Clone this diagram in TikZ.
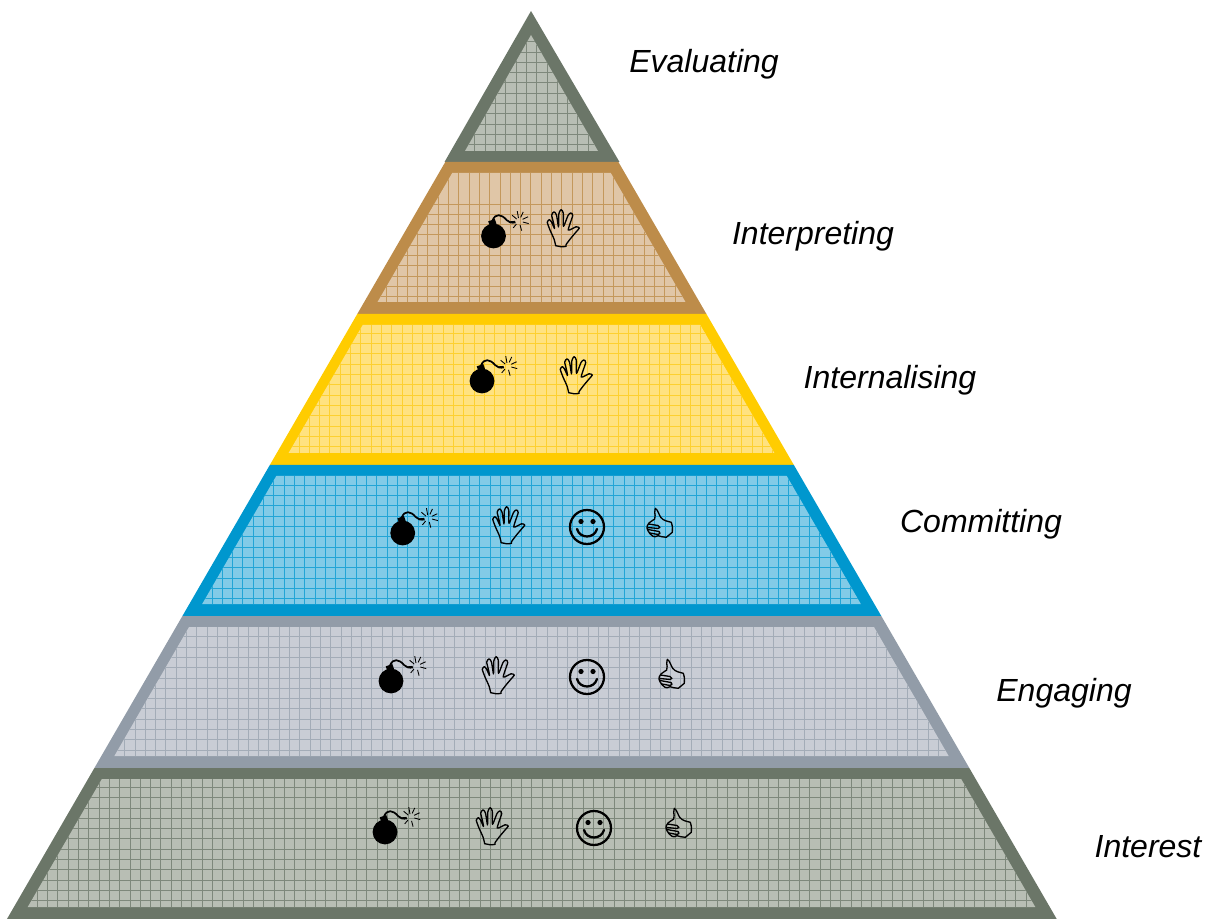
\documentclass[tikz,border=0pt]{standalone}
\usepackage{fontspec}
\setmainfont{Liberation Sans}
\definecolor{bgreen}{HTML}{6B7668}\definecolor{fgreen}{HTML}{B8BEB4}\definecolor{lgreen}{HTML}{7E887B}
\definecolor{bgrey}{HTML}{929CA8}\definecolor{fgrey}{HTML}{C9CDD5}\definecolor{lgrey}{HTML}{A3ACB7}
\definecolor{bblue}{HTML}{0097CE}\definecolor{fblue}{HTML}{82CBE7}\definecolor{lblue}{HTML}{22A5D6}
\definecolor{byel}{HTML}{FFCC00}\definecolor{fyel}{HTML}{FFE280}\definecolor{lyel}{HTML}{FDD030}
\definecolor{btan}{HTML}{BD8C4A}\definecolor{ftan}{HTML}{E0C6A7}\definecolor{ltan}{HTML}{C4985C}
% top, bottom, border, fill, line, inset, x phase, y phase
\newcommand{\pyrlayer}[8]{%
  \pgfmathsetmacro{\oT}{0.579*(#1-11)}\pgfmathsetmacro{\oB}{0.579*(#2-11)}
  \pgfmathsetmacro{\iT}{0.579*(#1+11-11)-#6}\pgfmathsetmacro{\iB}{0.579*(#2-12-11)-#6}
  \fill[#3] ({531-\oT+1.7},#1) -- ({531+\oT},#1) -- ({531+\oB},#2) -- ({531-\oB+1.7},#2) -- cycle;
  \begin{scope}
    \clip ({531-\iT},#1+11) -- ({531+\iT+1},#1+11) -- ({531+\iB+1},#2-12) -- ({531-\iB},#2-12) -- cycle;
    \fill[#4] (0,#1) rectangle (1217,#2);
    \foreach \k in {-60,...,100} \draw[#5,gridline] ({#7+10.3*\k},#1) -- ({#7+10.3*\k},#2);
    \foreach \k in {-1,...,16} \draw[#5,gridline] (0,{#8+10.3*\k}) -- (1217,{#8+10.3*\k});
  \end{scope}}
\tikzset{
  gridline/.style={line width=0.6pt},
  layerlabel/.style={font=\itshape\fontsize{24}{28}\selectfont,inner sep=0pt,anchor=center},
  iconline/.style={draw=black,line width=1pt,line join=round,line cap=round,fill=none},
  bombicon/.pic={
    \fill[black] (0,0) circle (12.4);
    \fill[black,rotate around={20:(-1,-13)}] (-4.5,-16) rectangle (2.5,-11);
    \draw[black,line width=1.3pt] (-1,-15.5) .. controls (2,-23) and (8,-22) .. (13,-16) .. controls (15,-13.5) and (18,-13) .. (22,-13.5);
    \foreach \a/\r/\s in {-15/4/10,25/4/10,65/4/10,100/3/10,140/3/9,185/4/9,230/4/9,285/4/10}
      \draw[black,line width=0.65pt] ({25.5+\r*cos(\a)},{-15-\r*sin(\a)}) -- ({25.5+\s*cos(\a)},{-15-\s*sin(\a)});
  },
  handicon/.pic={
    \draw[iconline] plot[smooth,tension=0.4] coordinates {
      (-7.3,15.7) (-9,9) (-13,0) (-15.7,-7.7) (-13.7,-10.3) (-11.5,-8) (-8.5,-1.5) (-9.7,-8) (-11.3,-15) (-9,-18.2) (-6.5,-15) (-4.5,-3)
      (-4.2,-16) (-2,-20.3) (0.3,-17) (0.5,-3.7) (5,-14.5) (7.7,-17) (9.7,-14.5) (5.3,0) (13,-3.2) (16.3,-2) (13.5,1.5) (8,8) (3,14.7) (3,16.3) };
    \draw[iconline] (-7.3,15.7) .. controls (-4,17) and (0,17) .. (3,16.3);
  },
  smileicon/.pic={
    \draw[black,line width=1.7pt] (0,0) circle (17);
    \fill[black] (-6,-5.5) circle (2.6); \fill[black] (6,-5.5) circle (2.6);
    \draw[black,line width=1.7pt,line cap=round] (-10,2) .. controls (-7,12) and (7,12) .. (10,2);
  },
  thumbicon/.pic={
    \draw[iconline] (-4.7,-16.7) .. controls (-2,-15) and (-1,-10) .. (0.7,-7.7) .. controls (3,-4.5) and (8,-3.5) .. (11.3,-2.7)
      .. controls (12.5,1) and (12.8,4) .. (12.3,7.3) -- (6.3,12.3) .. controls (3,12.5) and (0,11) .. (-2,10.7)
      .. controls (-4,12) and (-6,12) .. (-7,11.3) .. controls (-9,10) and (-11,8) .. (-12,5.7) .. controls (-13,4) and (-13.5,2) .. (-12.7,0.7)
      -- (-11,-2) .. controls (-9,-4) and (-7,-4.5) .. (-5.3,-6) .. controls (-4.5,-9) and (-5,-11) .. (-5.3,-12.7) -- cycle;
    \draw[iconline] (-11.5,-1) -- (-2,0.5) .. controls (0.5,1.5) and (0.5,3.5) .. (-2,3.5) -- (-12,2.5)
      (-12,4.5) -- (-1,6.5) .. controls (1,7.5) and (0,9.5) .. (-2,9.5) -- (-10,8);
  }
}
\begin{document}
\begin{tikzpicture}[x=0.75pt,y=-0.75pt,line width=0.75pt]
\useasboundingbox (0,0) rectangle (1217,919);
% top triangle
\fill[bgreen] (531,11) -- (619.5,162) -- (444.5,162) -- cycle;
\begin{scope}
  \clip (531,35) -- (598,151) -- (465,151) -- cycle;
  \fill[fgreen] (440,30) rectangle (620,155);
  \foreach \k in {-8,...,8} \draw[lgreen,gridline] ({516+10.3*\k},30) -- ({516+10.3*\k},155);
  \foreach \k in {-1,...,12} \draw[lgreen,gridline] (440,{41.7+10.3*\k}) -- (620,{41.7+10.3*\k});
\end{scope}
\pyrlayer{162}{314}{btan}{ftan}{ltan}{15}{479.3}{214.3}
\pyrlayer{314}{465}{byel}{fyel}{lyel}{13.5}{371}{333.3}
\pyrlayer{465}{616}{bblue}{fblue}{lblue}{14.5}{284}{485.3}
\pyrlayer{616}{768}{bgrey}{fgrey}{lgrey}{14.7}{196.7}{636.7}
\pyrlayer{768}{919}{bgreen}{fgreen}{lgreen}{15.5}{109.3}{787.3}
% icons
\pic (b1) at (493.5,236) {bombicon}; \pic (h1) at (563,230) {handicon};
\pic (b2) at (482,381) {bombicon};   \pic (h2) at (576,377) {handicon};
\pic (b3) at (402.7,533) {bombicon}; \pic (h3) at (508.5,527) {handicon}; \pic (s3) at (587,527) {smileicon}; \pic (t3) at (660,525) {thumbicon};
\pic (b4) at (391,681) {bombicon};   \pic (h4) at (498,677) {handicon};   \pic (s4) at (587,677) {smileicon}; \pic (t4) at (672,676) {thumbicon};
\pic (b5) at (385,832) {bombicon};   \pic (h5) at (492,828) {handicon};   \pic (s5) at (594,828) {smileicon}; \pic (t5) at (679,825) {thumbicon};
% labels
\node[layerlabel] (evaluating) at (704,64) {Evaluating};
\node[layerlabel] (interpreting) at (813,236) {Interpreting};
\node[layerlabel] (internalising) at (890,380) {Internalising};
\node[layerlabel] (committing) at (981,524) {Committing};
\node[layerlabel] (engaging) at (1064,693) {Engaging};
\node[layerlabel] (interest) at (1148,847) {Interest};
\end{tikzpicture}
\end{document}
